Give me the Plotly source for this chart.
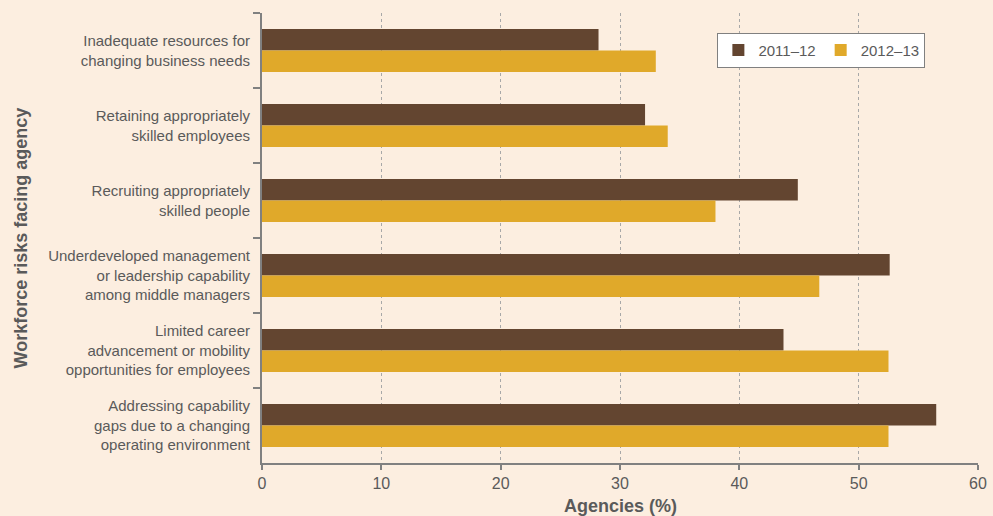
import plotly.graph_objects as go

# Workforce risks reported by agencies, share of agencies (%)
risks = [
    "Inadequate resources for<br>changing business needs",
    "Retaining appropriately<br>skilled employees",
    "Recruiting appropriately<br>skilled people",
    "Underdeveloped management<br>or leadership capability<br>among middle managers",
    "Limited career<br>advancement or mobility<br>opportunities for employees",
    "Addressing capability<br>gaps due to a changing<br>operating environment",
]
series_names = ["2011\u201312", "2012\u201313"]
values_2011_12 = [28.2, 32.1, 44.9, 52.6, 43.7, 56.5]
values_2012_13 = [33.0, 34.0, 38.0, 46.7, 52.5, 52.5]
x_ticks = [0, 10, 20, 30, 40, 50, 60]

BG = "#FCEEE0"
BROWN = "#634530"
GOLD = "#E0A92A"
AXIS = "#808080"
TEXT = "#5A5A5A"
FONT = "Liberation Sans Narrow, Arial Narrow, Liberation Sans, Arial, sans-serif"

fig = go.Figure()
fig.add_trace(go.Bar(y=risks, x=values_2011_12, name=series_names[0],
                     orientation="h", marker=dict(color=BROWN, line=dict(width=0))))
fig.add_trace(go.Bar(y=risks, x=values_2012_13, name=series_names[1],
                     orientation="h", marker=dict(color=GOLD, line=dict(width=0))))

fig.update_layout(
    width=993, height=516,
    margin=dict(l=262, r=15, t=13, b=53),
    paper_bgcolor=BG, plot_bgcolor=BG,
    barmode="group", bargap=0.427, bargroupgap=0,
    font=dict(family=FONT, size=15, color=TEXT),
    showlegend=True,
    legend=dict(
        orientation="h", x=0.636, y=0.956, xanchor="left", yanchor="top",
        bgcolor="white", bordercolor=AXIS, borderwidth=1,
        font=dict(size=15, color=TEXT), itemwidth=30,
        traceorder="normal",
    ),
    xaxis=dict(
        range=[0, 60], tickvals=x_ticks, ticktext=[str(v) for v in x_ticks],
        showgrid=True, gridcolor="#A8A8A8", griddash="3px,3px", gridwidth=1,
        zeroline=False, showline=True, linecolor=AXIS, linewidth=2,
        ticks="outside", ticklen=5, tickcolor=AXIS, tickwidth=2,
        tickfont=dict(size=16, color=TEXT), automargin=False,
    ),
    yaxis=dict(
        autorange="reversed", type="category",
        showline=True, linecolor=AXIS, linewidth=2,
        ticks="outside", tickson="boundaries", ticklen=7, tickcolor=AXIS, tickwidth=2,
        showgrid=False, tickfont=dict(size=15, color=TEXT),
        ticklabelstandoff=7, automargin=False,
    ),
    annotations=[
        dict(text="<b>Agencies (%)</b>", xref="paper", yref="paper",
             x=0.5, y=-0.095, xanchor="center", yanchor="middle",
             showarrow=False, font=dict(size=18, color=TEXT)),
        dict(text="<b>Workforce risks facing agency</b>", xref="paper", yref="paper",
             x=-0.336, y=0.5, xanchor="center", yanchor="middle", textangle=-90,
             showarrow=False, font=dict(size=18, color=TEXT)),
    ],
)

fig.write_html("out.html")
